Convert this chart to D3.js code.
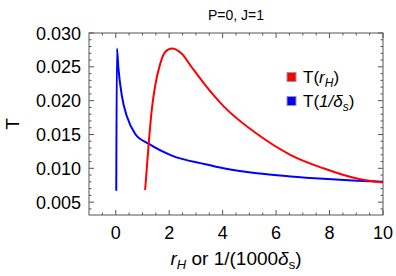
<!DOCTYPE html>
<html>
<head>
<meta charset="utf-8">
<script src="https://cdn.jsdelivr.net/npm/d3@7"></script>
<style>
  body { margin: 0; background: #fff; }
  svg { display: block; font-family: "Liberation Sans", Arial, sans-serif; }
</style>
</head>
<body>
<div id="chart"></div>
<script>
// T(r_H) curve
const redX = [1.10, 1.23, 1.35, 1.48, 1.66, 1.85, 2.10, 2.48, 2.85, 3.35, 4.03, 5.28, 6.53, 7.77, 9.02, 10];
const redT = [0.0068, 0.0135, 0.0187, 0.0223, 0.0254, 0.0272, 0.0277, 0.0269, 0.0249, 0.0223, 0.0192, 0.0151, 0.0120, 0.0100, 0.00849, 0.0079];
// T(1/delta_s) curve
const blueX = [0.02, 0.045, 0.10, 0.23, 0.42, 0.73, 1.23, 2.10, 3.35, 4.03, 5.28, 6.53, 7.77, 9.02, 10];
const blueT = [0.0067, 0.0277, 0.0248, 0.0207, 0.01765, 0.01508, 0.01364, 0.01188, 0.0106, 0.0100, 0.00926, 0.0088, 0.00845, 0.00818, 0.0080];

const xTicks = [0, 2, 4, 6, 8, 10];
const yTicks = [0.005, 0.010, 0.015, 0.020, 0.025, 0.030];
const seriesNames = ["red", "blue"];

const width = 396, height = 276;
const margin = {left: 89, right: 13, top: 33, bottom: 61};

const svg = d3.select("#chart").append("svg")
    .attr("width", width)
    .attr("height", height);

const x = d3.scaleLinear().domain([-1, 10]).range([margin.left, width - margin.right]);
const y = d3.scaleLinear().domain([0.0031, 0.030]).range([height - margin.bottom, margin.top]);

const color = d3.scaleOrdinal().domain(seriesNames).range(["#ff0000", "#0000ff"]);

const x0 = margin.left, x1 = width - margin.right;
const y0 = height - margin.bottom, y1 = margin.top;
const frameColor = "#555";

// tick marks (inside, on all four sides)
const xMinor = d3.range(-0.5, 10.01, 0.5).filter(v => !xTicks.includes(v));
const yMinor = d3.range(0.004, 0.0301, 0.001).filter(v => !yTicks.some(t => Math.abs(t - v) < 1e-6));

const ticks = svg.append("g").attr("stroke", frameColor).attr("stroke-width", 1);
function xTick(v, len) {
  ticks.append("line").attr("x1", x(v)).attr("x2", x(v)).attr("y1", y0).attr("y2", y0 - len);
  ticks.append("line").attr("x1", x(v)).attr("x2", x(v)).attr("y1", y1).attr("y2", y1 + len);
}
function yTick(v, len) {
  ticks.append("line").attr("x1", x0).attr("x2", x0 + len).attr("y1", y(v)).attr("y2", y(v));
  ticks.append("line").attr("x1", x1).attr("x2", x1 - len).attr("y1", y(v)).attr("y2", y(v));
}
xTicks.forEach(v => xTick(v, 5));
xMinor.forEach(v => xTick(v, 2.5));
yTicks.forEach(v => yTick(v, 5));
yMinor.forEach(v => yTick(v, 2.5));

// frame
svg.append("rect")
    .attr("x", x0).attr("y", y1)
    .attr("width", x1 - x0).attr("height", y0 - y1)
    .attr("fill", "none")
    .attr("stroke", frameColor)
    .attr("stroke-width", 1);

// tick labels
svg.append("g").selectAll("text")
    .data(xTicks)
    .join("text")
    .attr("x", d => x(d))
    .attr("y", y0 + 24)
    .attr("text-anchor", "middle")
    .attr("font-size", 18)
    .text(d => d);

svg.append("g").selectAll("text")
    .data(yTicks)
    .join("text")
    .attr("x", x0 - 8)
    .attr("y", d => y(d) + 6.5)
    .attr("text-anchor", "end")
    .attr("font-size", 18)
    .text(d => d.toFixed(3));

// curves
const line = d3.line()
    .x(d => x(d[0]))
    .y(d => y(d[1]))
    .curve(d3.curveMonotoneX);

const plot = svg.append("g");
plot.append("path")
    .datum(blueX.map((v, i) => [v, blueT[i]]))
    .attr("d", line)
    .attr("fill", "none")
    .attr("stroke", color("blue"))
    .attr("stroke-width", 2);

plot.append("path")
    .datum(redX.map((v, i) => [v, redT[i]]))
    .attr("d", line)
    .attr("fill", "none")
    .attr("stroke", color("red"))
    .attr("stroke-width", 2);

// title
svg.append("text")
    .attr("x", (x0 + x1) / 2)
    .attr("y", 20)
    .attr("text-anchor", "middle")
    .attr("font-size", 14)
    .text("P=0, J=1");

// axis labels
svg.append("text")
    .attr("transform", `translate(19,${(y0 + y1) / 2}) rotate(-90)`)
    .attr("text-anchor", "middle")
    .attr("font-size", 19)
    .text("T");

const xl = svg.append("text")
    .attr("x", (x0 + x1) / 2)
    .attr("y", 265)
    .attr("text-anchor", "middle")
    .attr("font-size", 19);
xl.append("tspan").attr("font-style", "italic").text("r");
xl.append("tspan").attr("font-style", "italic").attr("font-size", 13).attr("dy", 4).text("H");
xl.append("tspan").attr("dy", -4).text(" or 1/(1000");
xl.append("tspan").attr("font-style", "italic").text("δ");
xl.append("tspan").attr("font-size", 13).attr("dy", 4).text("s");
xl.append("tspan").attr("dy", -4).text(")");

// legend
const legend = svg.append("g");
const legendRows = [
  {key: "red", main: "r", sub: "H", y: 77},
  {key: "blue", main: "1/δ", sub: "s", y: 101}
];
legendRows.forEach(r => {
  legend.append("rect")
      .attr("x", 287).attr("y", r.y - 4.5)
      .attr("width", 9).attr("height", 9)
      .attr("fill", color(r.key))
      .attr("stroke", "#999")
      .attr("stroke-width", 1);
  const t = legend.append("text")
      .attr("x", 303).attr("y", r.y + 6)
      .attr("font-size", 17);
  t.append("tspan").text("T(");
  t.append("tspan").attr("font-style", "italic").text(r.main);
  t.append("tspan").attr("font-style", "italic").attr("font-size", 12).attr("dy", 4).text(r.sub);
  t.append("tspan").attr("dy", -4).text(")");
});
</script>
</body>
</html>
